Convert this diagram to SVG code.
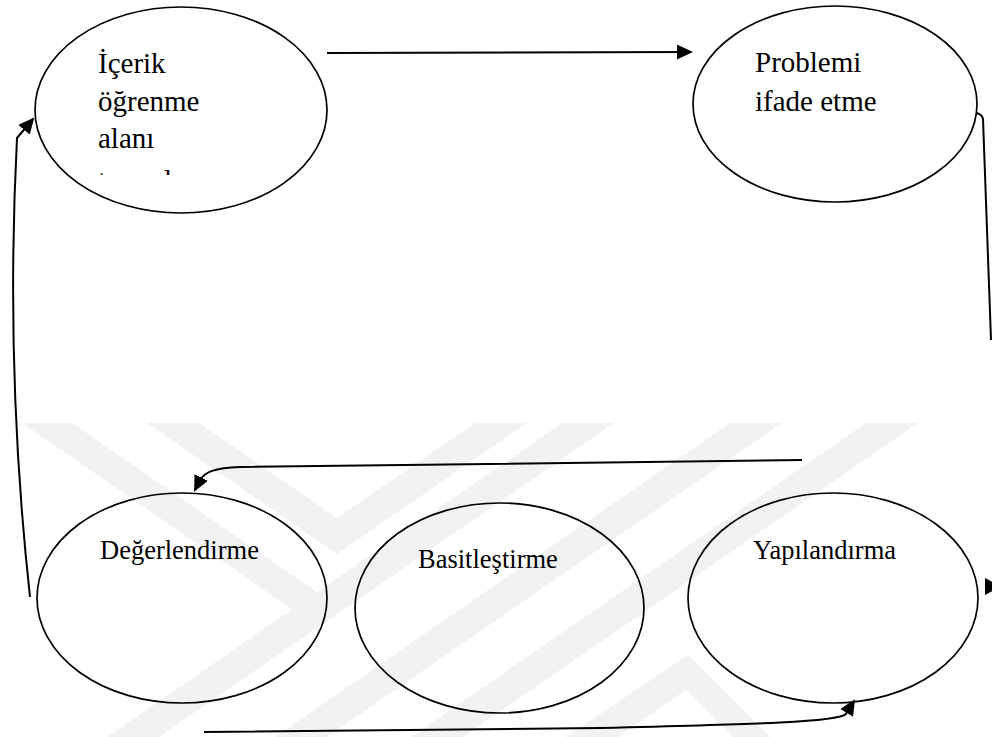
<svg xmlns="http://www.w3.org/2000/svg" width="992" height="737" viewBox="0 0 992 737">
  <style>
    .node { fill: none; stroke: #000; stroke-width: 1.7; }
    .lbl { font-family: "Liberation Serif", "Times New Roman", serif; fill: #000; }
    .top { font-size: 29px; }
    .bot { font-size: 26.5px; }
    .conn { fill: none; stroke: #000; stroke-width: 2; }
    .wm { fill: #f2f2f2; stroke: none; }
  </style>
  <defs>
    <marker id="arrow" markerUnits="userSpaceOnUse" markerWidth="16" markerHeight="15" refX="14" refY="7.5" orient="auto">
      <path d="M0,0 L16,7.5 L0,15 Z" fill="#000"/>
    </marker>
    <clipPath id="clip4">
      <rect x="90" y="160" width="160" height="15"/>
    </clipPath>
  </defs>
  <rect width="992" height="737" fill="#fff"/>

  <g id="watermark">
    <polygon class="wm" points="22,423 72,423 317,592 318,627"/>
    <polygon class="wm" points="147,423 199,423 337,518 475,423 527,423 337,554"/>
    <polygon class="wm" points="562,423 614,423 159,737 107,737"/>
    <polygon class="wm" points="730,423 782,423 327,737 275,737"/>
    <polygon class="wm" points="866,423 918,423 463,737 411,737"/>
    <polygon class="wm" points="688,655 770,737 733,737 686,690 618,737 566,737"/>
  </g>

  <g id="connectors">
    <path class="conn" d="M327,53 L691,52" marker-end="url(#arrow)"/>
    <path class="conn" d="M976,113 Q982,114 983,119 L991,340"/>
    <polygon points="985,578 1001,586.5 985,595" fill="#000"/>
    <path class="conn" d="M802,460 L240,467 C214,468 205,472 200,480 L195,490" marker-end="url(#arrow)"/>
    <path class="conn" d="M204,732 L600,728 C760,724 838,722 846,714 L854,701" marker-end="url(#arrow)"/>
    <path class="conn" d="M30,597 Q5,370 17,138 L33,119" marker-end="url(#arrow)"/>
  </g>

  <g id="n-icerik">
    <ellipse class="node" cx="181" cy="110" rx="146" ry="103"/>
    <text class="lbl top" x="98" y="73">İçerik</text>
    <text class="lbl top" x="98" y="111">öğrenme</text>
    <text class="lbl top" x="98" y="148">alanı</text>
    <text class="lbl top" x="98" y="190" clip-path="url(#clip4)">tanımlama</text>
  </g>

  <g id="n-problemi">
    <ellipse class="node" cx="835" cy="104" rx="142" ry="98"/>
    <text class="lbl top" x="755" y="72">Problemi</text>
    <text class="lbl top" x="755" y="111">ifade etme</text>
  </g>

  <g id="n-degerlendirme">
    <ellipse class="node" cx="182" cy="598" rx="145" ry="105"/>
    <text class="lbl bot" x="100" y="559">Değerlendirme</text>
  </g>

  <g id="n-basitlestirme">
    <ellipse class="node" cx="499.5" cy="608" rx="144.5" ry="105"/>
    <text class="lbl bot" x="418" y="568">Basitleştirme</text>
  </g>

  <g id="n-yapilandirma">
    <ellipse class="node" cx="833" cy="598" rx="145" ry="105"/>
    <text class="lbl bot" x="753" y="559">Yapılandırma</text>
  </g>
</svg>
